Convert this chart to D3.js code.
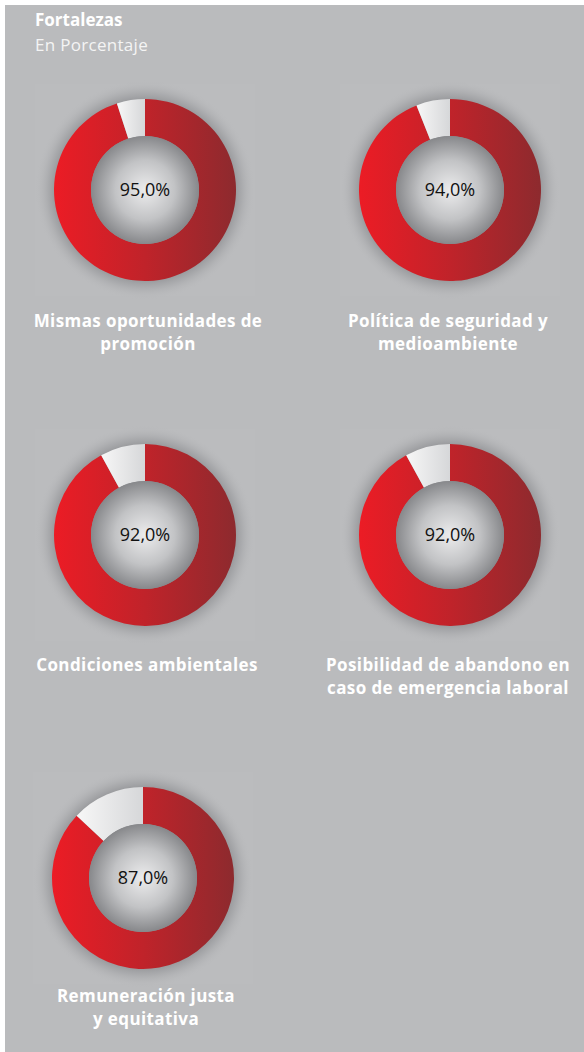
<!DOCTYPE html>
<html>
<head>
<meta charset="utf-8">
<script src="https://cdn.jsdelivr.net/npm/d3@7"></script>
<style>
  html, body { margin: 0; padding: 0; background: #fff; }
  svg { display: block; }
</style>
</head>
<body>
<div id="chart"></div>
<script>
// data
const labels = [
  ['Mismas oportunidades de', 'promoción'],
  ['Política de seguridad y', 'medioambiente'],
  ['Condiciones ambientales'],
  ['Posibilidad de abandono en', 'caso de emergencia laboral'],
  ['Remuneración justa', 'y equitativa'],
];
const values = [95.0, 94.0, 92.0, 92.0, 87.0];
const title = 'Fortalezas';
const subtitle = 'En Porcentaje';

const width = 584;
const height = 1052;
const outerRadius = 91;
const innerRadius = 54;
const font = '"Open Sans", Lato, sans-serif';

// layout of the 5 donuts: centre x, centre y, label x, first label baseline
const slots = [
  [145, 190, 148, 327],
  [450, 190, 448, 327],
  [145, 535, 147, 671],
  [450, 535, 448, 671],
  [143, 878, 146, 1002],
];

const locale = d3.formatLocale({ decimal: ',', thousands: '.', grouping: [3], currency: ['', '€'] });
const fmt = locale.format('.1f');

const svg = d3
  .select('#chart')
  .append('svg')
  .attr('width', width)
  .attr('height', height);

const defs = svg.append('defs');

// red slice: bright red on the left to dark red on the right
const redGrad = defs.append('linearGradient').attr('id', 'red').attr('x1', 0).attr('x2', 1).attr('y1', 0).attr('y2', 0);
redGrad.append('stop').attr('offset', 0).attr('stop-color', '#ec1c25');
redGrad.append('stop').attr('offset', 0.5).attr('stop-color', '#c0232a');
redGrad.append('stop').attr('offset', 1).attr('stop-color', '#8d2a2e');

const whiteGrad = defs.append('linearGradient').attr('id', 'white').attr('x1', 0).attr('x2', 1).attr('y1', 0).attr('y2', 0);
whiteGrad.append('stop').attr('offset', 0).attr('stop-color', '#f7f7f7');
whiteGrad.append('stop').attr('offset', 1).attr('stop-color', '#d6d7d9');

const holeGrad = defs.append('radialGradient').attr('id', 'hole').attr('cx', 0.5).attr('cy', 0.5).attr('r', 0.5);
holeGrad.append('stop').attr('offset', 0).attr('stop-color', '#ececed');
holeGrad.append('stop').attr('offset', 0.55).attr('stop-color', '#c2c3c5');
holeGrad.append('stop').attr('offset', 1).attr('stop-color', '#87888b');

const glowGrad = defs.append('radialGradient').attr('id', 'glow').attr('cx', 0.5).attr('cy', 0.5).attr('r', 0.5);
glowGrad.append('stop').attr('offset', 0.78).attr('stop-color', '#5a5b5f').attr('stop-opacity', 0.5);
glowGrad.append('stop').attr('offset', 0.88).attr('stop-color', '#76777b').attr('stop-opacity', 0.25);
glowGrad.append('stop').attr('offset', 1).attr('stop-color', '#babbbd').attr('stop-opacity', 0);

// background
svg.append('rect').attr('x', 5).attr('y', 5).attr('width', width - 5).attr('height', height - 5).attr('fill', '#babbbd');

svg.append('text')
  .attr('x', 35).attr('y', 26)
  .attr('font-family', font)
  .attr('font-size', 17).attr('font-weight', 700)
  .attr('fill', '#fff')
  .text(title);

svg.append('text')
  .attr('x', 35).attr('y', 51)
  .attr('font-family', font)
  .attr('font-size', 17).attr('font-weight', 400)
  .attr('letter-spacing', 0.3)
  .attr('fill', '#f4f4f4')
  .text(subtitle);

const pie = d3.pie().sort(null).value(d => d);
const arc = d3.arc().innerRadius(innerRadius).outerRadius(outerRadius);

values.forEach((v, i) => {
  const [cx, cy, lx, ly] = slots[i];

  // faint lighter panel behind each donut
  svg.append('rect')
    .attr('x', cx - 110).attr('y', cy - 106)
    .attr('width', 220).attr('height', 212)
    .attr('fill', '#bbbcbe');

  const g = svg.append('g').attr('transform', `translate(${cx},${cy})`);

  g.append('circle').attr('r', outerRadius + 19).attr('fill', 'url(#glow)');

  g.selectAll('path')
    .data(pie([v, 100 - v]))
    .join('path')
    .attr('fill', (d, j) => (j === 0 ? 'url(#red)' : 'url(#white)'))
    .attr('d', arc);

  g.append('circle').attr('r', innerRadius).attr('fill', 'url(#hole)');

  g.append('text')
    .attr('text-anchor', 'middle')
    .attr('y', 6)
    .attr('font-family', font)
    .attr('font-size', 18)
    .attr('fill', '#111')
    .text(fmt(v) + '%');

  svg.append('text')
    .attr('text-anchor', 'middle')
    .attr('font-family', font)
    .attr('font-size', 17).attr('font-weight', 700)
    .attr('letter-spacing', 0.4)
    .attr('fill', '#fff')
    .selectAll('tspan')
    .data(labels[i])
    .join('tspan')
    .attr('x', lx)
    .attr('y', (d, k) => ly + k * 23)
    .text(d => d);
});
</script>
</body>
</html>
